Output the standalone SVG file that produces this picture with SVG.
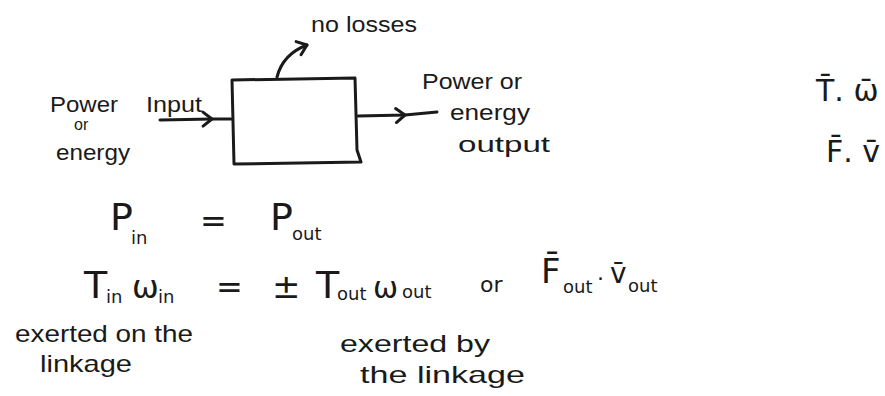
<svg xmlns="http://www.w3.org/2000/svg" width="885" height="396" viewBox="0 0 885 396">
<style>
.t{font-family:"Liberation Sans","DejaVu Sans",sans-serif;fill:#1a1a1a}
.m{font-family:"DejaVu Sans","Liberation Sans",sans-serif;fill:#1a1a1a}
.s{stroke:#1a1a1a;stroke-width:3;fill:none;stroke-linecap:round;stroke-linejoin:round}
</style>
<defs>
<marker id="chev" markerUnits="userSpaceOnUse" markerWidth="20" markerHeight="20" refX="0" refY="0" viewBox="-12 -10 14 20" orient="auto" overflow="visible">
<path d="M-9,-7 L0,0 L-9,7" fill="none" stroke="#1a1a1a" stroke-width="3" stroke-linecap="round" stroke-linejoin="round"/>
</marker>
</defs>
<rect width="885" height="396" fill="#ffffff"/>
<g id="connectors">
<path class="s" d="M160,120 L212,119 L231,119" marker-mid="url(#chev)"/>
<path class="s" d="M358,116 L405,115 L437,112" marker-mid="url(#chev)"/>
<path class="s" d="M277,77 Q283,54 307,45" marker-end="url(#chev)"/>
</g>
<g id="box">
<path class="s" d="M232,80 L355,78 L357,150 L361,162 L234,164 Z"/>
</g>
<g id="losses-label"><text class="t" x="311" y="32" font-size="22" textLength="106" lengthAdjust="spacingAndGlyphs">no losses</text></g>
<g id="input-label">
<text class="t" x="50" y="112" font-size="22" textLength="68" lengthAdjust="spacingAndGlyphs">Power</text>
<text class="t" x="74" y="130" font-size="16">or</text>
<text class="t" x="56" y="160" font-size="22" textLength="74" lengthAdjust="spacingAndGlyphs">energy</text>
<text class="t" x="146" y="112" font-size="22" textLength="56" lengthAdjust="spacingAndGlyphs">Input</text>
</g>
<g id="output-label">
<text class="t" x="422" y="89" font-size="22" textLength="100" lengthAdjust="spacingAndGlyphs">Power or</text>
<text class="t" x="450" y="120" font-size="22" textLength="80" lengthAdjust="spacingAndGlyphs">energy</text>
<text class="t" x="458" y="152" font-size="22" textLength="92" lengthAdjust="spacingAndGlyphs">output</text>
</g>
<g id="vectors">
<text class="m" x="816" y="101" font-size="30">T̄. ω̄</text>
<text class="m" x="826" y="162" font-size="30">F̄. v̄</text>
</g>
<g id="eq1">
<text class="m" font-size="38"><tspan x="110" y="230">P</tspan><tspan x="131" y="244" font-size="18">in</tspan><tspan x="200" y="232" font-size="32">=</tspan><tspan x="270" y="230">P</tspan><tspan x="292" y="240" font-size="18">out</tspan></text>
</g>
<g id="eq2">
<text class="m" font-size="38"><tspan x="84" y="298">T</tspan><tspan x="106" y="303" font-size="18">in</tspan><tspan x="132" y="298" font-size="32">ω</tspan><tspan x="158" y="303" font-size="18">in</tspan><tspan x="216" y="298" font-size="32">=</tspan><tspan x="272" y="298" font-size="34">±</tspan><tspan x="316" y="298">T</tspan><tspan x="337" y="300" font-size="18">out</tspan><tspan x="373" y="298" font-size="30">ω</tspan><tspan x="402" y="298" font-size="18">out</tspan><tspan x="480" y="292" font-size="22">or</tspan><tspan x="541" y="283" font-size="34">F̄</tspan><tspan x="563" y="293" font-size="18">out</tspan><tspan x="597" y="286" font-size="22">·</tspan><tspan x="610" y="283" font-size="28">v̄</tspan><tspan x="628" y="292" font-size="18">out</tspan></text>
</g>
<g id="notes">
<text class="t" x="15" y="342" font-size="24" textLength="178" lengthAdjust="spacingAndGlyphs">exerted on the</text>
<text class="t" x="40" y="372" font-size="24" textLength="92" lengthAdjust="spacingAndGlyphs">linkage</text>
<text class="t" x="340" y="352" font-size="24" textLength="150" lengthAdjust="spacingAndGlyphs">exerted by</text>
<text class="t" x="360" y="383" font-size="24" textLength="165" lengthAdjust="spacingAndGlyphs">the linkage</text>
</g>
</svg>
